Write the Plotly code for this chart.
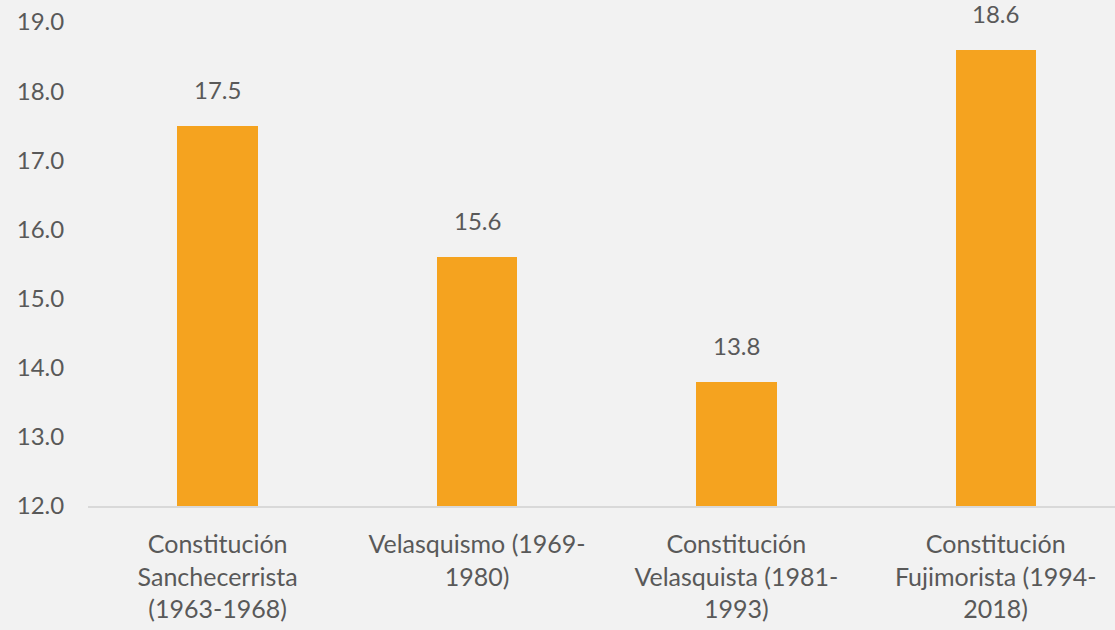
import plotly.graph_objects as go

categories = [
    "Constitución<br>Sanchecerrista<br>(1963-1968)",
    "Velasquismo (1969-<br>1980)",
    "Constitución<br>Velasquista (1981-<br>1993)",
    "Constitución<br>Fujimorista (1994-<br>2018)",
]
values = [17.5, 15.6, 13.8, 18.6]
y_ticks = [12, 13, 14, 15, 16, 17, 18, 19]
BASE = 12

BAR = "#F5A31F"
TXT = "#595959"
FONT = "Lato"

fig = go.Figure()
fig.add_trace(go.Bar(
    x=list(range(len(categories))), y=[v - BASE for v in values],
    base=BASE,
    marker=dict(color=BAR, line=dict(width=0)),
    width=0.31,
    cliponaxis=False,
))

for i, v in enumerate(values):
    fig.add_annotation(x=i, y=v, text=f"{v:.1f}", showarrow=False,
                       yanchor="bottom", yshift=20,
                       font=dict(family=FONT, size=24, color=TXT))

fig.update_layout(
    width=1115, height=630,
    paper_bgcolor="#F2F2F2", plot_bgcolor="#F2F2F2",
    margin=dict(l=88, r=0, t=22, b=124, autoexpand=False),
    showlegend=False,
    bargap=0,
)
fig.update_xaxes(
    tickmode="array", tickvals=list(range(len(categories))), ticktext=categories,
    range=[-0.5, 3.46], automargin=False,
    showgrid=False, zeroline=False,
    showline=True, linecolor="#D9D9D9", linewidth=2,
    ticks="outside", ticklen=15, tickcolor="rgba(0,0,0,0)",
    tickfont=dict(family=FONT, size=25, color=TXT),
)
fig.update_yaxes(
    range=[12, 19], tickvals=y_ticks, ticktext=[f"{t:.1f}" for t in y_ticks],
    automargin=False,
    showgrid=False, zeroline=False, showline=False,
    ticks="outside", ticklen=18, tickcolor="rgba(0,0,0,0)",
    tickfont=dict(family=FONT, size=24, color=TXT),
)
fig.write_html(
    "out.html",
    config={"displayModeBar": False},
    post_script="document.body.style.margin='0';document.body.style.background='#F2F2F2';document.body.style.overflow='hidden';",
)
